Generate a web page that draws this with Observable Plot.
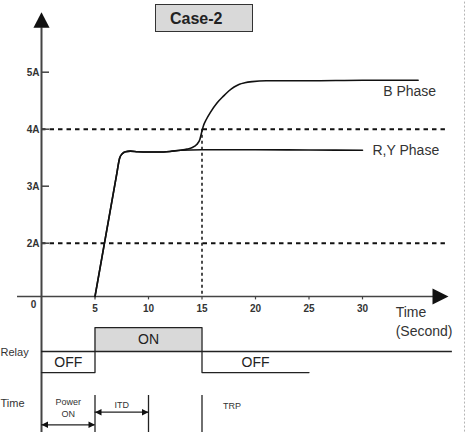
<!DOCTYPE html>
<html><head><meta charset="utf-8">
<script src="https://cdn.jsdelivr.net/npm/d3@7"></script>
<script src="https://cdn.jsdelivr.net/npm/@observablehq/plot@0.6"></script>
<style>
body{margin:0;background:#fff;}
#wrap{position:relative;width:465px;height:432px;}
#title{position:absolute;left:155px;top:4px;width:96px;height:26px;background:#d9d9d9;border:1.5px solid #333;font:bold 16px "Liberation Sans",Arial,sans-serif;color:#222;}
#title span{position:absolute;left:14px;top:5px;}
</style></head>
<body><div id="wrap"><div id="title"><span>Case-2</span></div></div>
<script>
// ---- data ----
const titleText = "Case-2";
const bTime = [5, 7.0, 7.3, 7.55, 7.85, 8.3, 9, 10, 11, 12, 13, 13.6, 14.1, 14.5, 14.8, 15.0, 15.15, 15.4, 15.8, 16.4, 17.0, 17.5, 18.0, 18.5, 19.0, 19.7, 21, 25, 30, 35.2];
const bAmps = [1.065, 3.18, 3.49, 3.57, 3.605, 3.615, 3.605, 3.60, 3.60, 3.61, 3.63, 3.65, 3.68, 3.73, 3.82, 3.97, 4.07, 4.17, 4.30, 4.46, 4.58, 4.67, 4.74, 4.79, 4.815, 4.835, 4.85, 4.85, 4.86, 4.86];
const ryTime = [5, 7.0, 7.3, 7.55, 7.85, 8.3, 9, 10, 11, 12, 13, 15, 20, 25, 30];
const ryAmps = [1.065, 3.18, 3.49, 3.57, 3.605, 3.615, 3.605, 3.60, 3.60, 3.61, 3.63, 3.64, 3.64, 3.635, 3.63];
const seriesNames = ["B Phase", "R,Y Phase"];
const yTicks = [2, 3, 4, 5];
const yTickLabels = ["2A", "3A", "4A", "5A"];
const xTicks = [5, 10, 15, 20, 25, 30];
const thresholds = [2, 4];
const tripTime = 15;
const relayTime = [0, 5, 15, 25];
const relayState = ["OFF", "ON", "OFF", "OFF"];
const stageStart = [0, 5];
const stageEnd = [5, 10];
const stageNames = ["Power\nON", "ITD"];
const tripName = "TRP";
const stageMarks = [5, 10, 15];

// ---- layout (in scale units) ----
const base = 1.065, yTip = 6.05, xLeft = -2.24, xTip = 38.04, dashEnd = 37.75;
const relayMid = 0.10, relayLevel = {ON: 0.52, OFF: -0.27};
const relayEnd = 38.4, rowTop = -0.672, bottom = -1.33, borderX = 39.56;
const arrowRow = [-1.186, -0.965], stageLabelY = [-0.88, -0.83], tripLabelY = -0.86;
const font = "'Liberation Sans', Arial, sans-serif";
const ink = "#333";

const tipUp = {draw(c, s){const k=Math.sqrt(s); c.moveTo(0,0); c.lineTo(-k*0.52,k); c.lineTo(k*0.52,k); c.closePath();}};
const tipRight = {draw(c, s){const k=Math.sqrt(s); c.moveTo(0,0); c.lineTo(-k,-k*0.5); c.lineTo(-k,k*0.5); c.closePath();}};
const tipLeft = {draw(c, s){const k=Math.sqrt(s); c.moveTo(0,0); c.lineTo(k,-k*0.5); c.lineTo(k,k*0.5); c.closePath();}};
const rOf = px => Math.sqrt(px*px/Math.PI);

const bData = bTime.map((t,i)=>({t, a:bAmps[i]}));
const ryData = ryTime.map((t,i)=>({t, a:ryAmps[i]}));
const relayData = relayTime.map((t,i)=>({t, state:relayState[i]}));
const relaySegs = relayTime.slice(0,-1).map((t,i)=>({t1:t, t2:relayTime[i+1], state:relayState[i]}));
const stages = stageStart.map((s,i)=>({s, e:stageEnd[i], name:stageNames[i], row:arrowRow[i], ly:stageLabelY[i]}));

const chart = Plot.plot({
  width: 465, height: 432, margin: 0,
  x: {domain: [0, 35], range: [41, 41 + 35*10.7], axis: null},
  y: {domain: [2, 5], range: [242.7, 71.7], axis: null},
  style: {fontFamily: font, background: "white", overflow: "visible"},
  marks: [
    Plot.ruleX([borderX], {x: d=>d, y1: 6.3, y2: bottom, stroke: "#999", strokeDasharray: "2,2", strokeWidth: 1}),
    // threshold dashed lines
    Plot.ruleY(thresholds, {y: d=>d, x1: 0, x2: dashEnd, stroke: "#111", strokeWidth: 2, strokeDasharray: "4.5,4"}),
    Plot.ruleX([tripTime], {x: d=>d, y1: 4, y2: base, stroke: "#111", strokeWidth: 1.5, strokeDasharray: "3,3"}),
    // axes
    Plot.ruleX([0], {x: d=>d, y1: yTip - 0.27, y2: bottom, stroke: "#444", strokeWidth: 2}),
    Plot.dot([0], {x: d=>d, y: yTip, symbol: tipUp, r: rOf(15.5), fill: "#111", stroke: "none"}),
    Plot.ruleY([base], {y: d=>d, x1: xLeft, x2: xTip - 1.4, stroke: "#444", strokeWidth: 1.5}),
    Plot.dot([xTip], {x: d=>d, y: base, symbol: tipRight, r: rOf(16), fill: "#111", stroke: "none"}),
    Plot.ruleY(yTicks, {y: d=>d, x1: 0, x2: 0.75, stroke: "#444", strokeWidth: 1.5}),
    Plot.text(yTicks, {x: 0, y: d=>d, text: (d,i)=>yTickLabels[i], textAnchor: "end", dx: -2, dy: 1, fontSize: 10, fontWeight: "bold", fill: ink}),
    Plot.ruleX(xTicks, {x: d=>d, y1: base, y2: base - 0.06, stroke: "#444", strokeWidth: 1.2}),
    Plot.text(xTicks, {x: d=>d, y: base, text: d=>String(d), dy: 12, fontSize: 10, fontWeight: "bold", fill: ink}),
    Plot.text([0], {x: d=>d, y: base, text: d=>String(d), dx: -8, dy: 8, fontSize: 10, fontWeight: "bold", fill: ink}),
    Plot.text(["Time\n(Second)"], {x: 33.1, y: base, text: d=>d, textAnchor: "start", dy: 24, lineHeight: 1.35, fontSize: 14, fill: ink}),
    // curves
    Plot.line(ryData, {x: "t", y: "a", curve: "monotone-x", stroke: "#111", strokeWidth: 1.6}),
    Plot.line(bData, {x: "t", y: "a", curve: "monotone-x", stroke: "#111", strokeWidth: 1.6}),
    Plot.text([seriesNames[0]], {x: bTime[bTime.length-1], y: bAmps[bAmps.length-1], text: d=>d, textAnchor: "end", dx: 18, dy: 11, fontSize: 14, fill: ink}),
    Plot.text([seriesNames[1]], {x: ryTime[ryTime.length-1], y: ryAmps[ryAmps.length-1], text: d=>d, textAnchor: "start", dx: 10, fontSize: 14, fill: ink}),
    // relay
    Plot.rect(relaySegs.filter(d=>d.state==="ON"), {x1: "t1", x2: "t2", y1: relayMid, y2: d=>relayLevel[d.state], fill: "#d9d9d9"}),
    Plot.ruleY([relayMid], {y: d=>d, x1: 0, x2: relayEnd, stroke: "#222", strokeWidth: 1.3}),
    Plot.line(relayData, {x: "t", y: d=>relayLevel[d.state], curve: "step-after", stroke: "#222", strokeWidth: 1.3}),
    Plot.text(relaySegs, {x: d=>(d.t1+d.t2)/2, y: d=>(relayMid+relayLevel[d.state])/2, text: "state", fontSize: 14, fill: "#222"}),
    Plot.text(["Relay"], {x: -3.83, y: relayMid, text: d=>d, textAnchor: "start", fontSize: 11, fill: ink, dy: 1}),
    Plot.text(["Time"], {x: -3.83, y: stageLabelY[0], text: d=>d, textAnchor: "start", fontSize: 11, fill: ink, dy: -4}),
    // time row
    Plot.ruleX(stageMarks, {x: d=>d, y1: rowTop, y2: bottom, stroke: "#222", strokeWidth: 1.3}),
    Plot.ruleY(stages, {y: "row", x1: "s", x2: "e", stroke: "#222", strokeWidth: 1.3}),
    Plot.dot(stages, {x: "s", y: "row", symbol: tipLeft, r: rOf(6.5), fill: "#111", stroke: "none"}),
    Plot.dot(stages, {x: "e", y: "row", symbol: tipRight, r: rOf(6.5), fill: "#111", stroke: "none"}),
    Plot.text(stages, {x: d=>(d.s+d.e)/2, y: "ly", text: "name", fontSize: 9, lineHeight: 1.35, fill: ink}),
    Plot.text([tripName], {x: tripTime, y: tripLabelY, text: d=>d, textAnchor: "start", dx: 21, fontSize: 9, fill: ink})
  ]
});
document.getElementById("wrap").prepend(chart);
document.querySelector("#title span").textContent = titleText;
</script>
</body></html>
